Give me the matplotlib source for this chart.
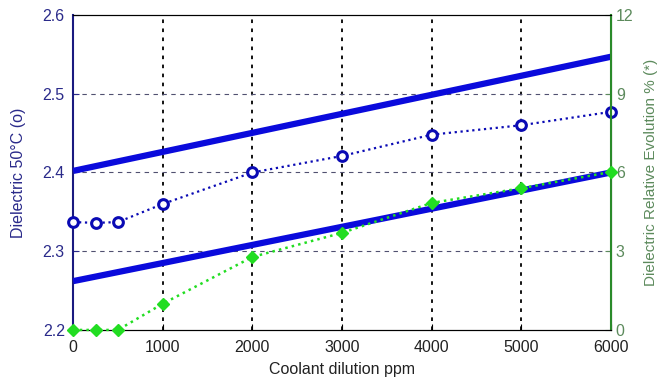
import numpy as np
from matplotlib import pyplot as plt

plt.rcParams['font.family'] = ['Liberation Sans', 'DejaVu Sans']

# data
ppm = [0, 250, 500, 1000, 2000, 3000, 4000, 5000, 6000]
dielectric = [2.337, 2.336, 2.337, 2.360, 2.400, 2.421, 2.448, 2.460, 2.477]
evolution = [0.0, 0.0, 0.0, 1.0, 2.78, 3.7, 4.84, 5.4, 6.02]

upper_x = [0, 6000]
upper_y = [2.402, 2.547]
lower_x = [0, 6000]
lower_y = [2.262, 2.400]

navy = '#2a2a8a'
green_txt = '#5c8a5c'

fig = plt.figure(figsize=(6.59, 3.85), dpi=100)
ax = fig.add_axes([0.111, 0.143, 0.816, 0.818])

ax.plot(upper_x, upper_y, color='#0a0adc', lw=4.5, solid_capstyle='butt', zorder=3)
ax.plot(lower_x, lower_y, color='#0a0adc', lw=4.5, solid_capstyle='butt', zorder=3)
ax.plot(ppm, dielectric, color='#0a0ab4', lw=1.6, ls=':', marker='o', ms=7,
        mfc='white', mec='#0a0ab4', mew=2.2, zorder=4, clip_on=False)

ax.set_xlim(0, 6000)
ax.set_ylim(2.2, 2.6)
ax.set_xticks(range(0, 6001, 1000))
ax.set_yticks([2.2, 2.3, 2.4, 2.5, 2.6])
ax.set_yticklabels(['2.2', '2.3', '2.4', '2.5', '2.6'])
for x in range(1000, 6000, 1000):
    ax.axvline(x, color='black', ls=(0, (2, 3)), lw=1.3, zorder=1)
for y in [2.3, 2.4, 2.5]:
    ax.axhline(y, color='#505070', ls=(0, (4, 4)), lw=0.8, zorder=1)
ax.tick_params(axis='y', colors=navy, labelsize=11.5, direction='in', length=4, pad=6)
ax.tick_params(axis='x', colors='black', labelsize=11.5, direction='in', length=4,
               labelcolor='#222222', pad=7)
ax.spines['left'].set_color('#1a1a80')
ax.spines['left'].set_linewidth(1.5)
ax.set_ylabel('Dielectric 50°C (o)', color=navy, fontsize=11.5, labelpad=12)
ax.set_xlabel('Coolant dilution ppm', color='#222222', fontsize=11.5, labelpad=5)

ax2 = ax.twinx()
ax2.plot(ppm, evolution, color='#22dd22', lw=1.8, ls=':', marker='D', ms=6,
         mfc='#22dd22', mec='#22dd22', zorder=4, clip_on=False)
ax2.set_ylim(0, 12)
ax2.set_yticks([0, 3, 6, 9, 12])
ax2.tick_params(axis='y', colors=green_txt, labelsize=11.5, direction='in', length=4)
ax2.spines['right'].set_color('#2a8a2a')
ax2.spines['right'].set_linewidth(1.5)
ax2.spines['left'].set_visible(False)
ax2.set_ylabel('Dielectric Relative Evolution % (*)', color=green_txt, fontsize=11, labelpad=8)

fig.savefig('out.png', dpi=100)
